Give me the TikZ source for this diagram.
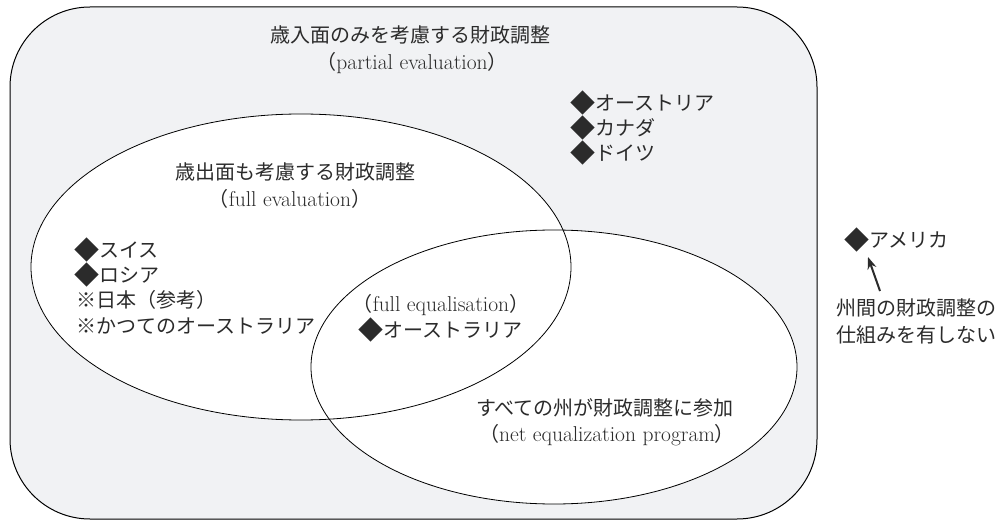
\documentclass[tikz,border=0pt]{standalone}
\usepackage{graphicx}
\usepackage{fontspec}
\newfontfamily\jp{Noto Sans CJK JP}
\usetikzlibrary{arrows.meta}
\definecolor{bggray}{HTML}{F1F2F4}
\definecolor{txt}{HTML}{2B2B2B}
\newcommand\lat{\fontsize{21.5}{25}\selectfont}
\newcommand\dia{\hspace{-0.08em}\raisebox{-0.12em}{\scalebox{1.25}{◆}}\hspace{-0.02em}}
\tikzset{
  lbl/.style={text=txt, inner sep=0pt, font=\fontsize{20}{25}\selectfont\jp, align=center},
  lst/.style={lbl, align=left, anchor=west},
  outline/.style={draw=black, line width=0.8pt}
}
\begin{document}
\begin{tikzpicture}[x=1pt,y=-1pt]
\useasboundingbox (0,0) rectangle (1007,521);
% outer set
\draw[outline, line width=1pt, fill=bggray, rounded corners=80pt] (10,7) rectangle (817,519);
% ellipses (fill first, then outline)
\fill[white] (301,267) ellipse [x radius=270, y radius=153];
\fill[white] (554,367) ellipse [x radius=243, y radius=137];
\draw[outline] (301,267) ellipse [x radius=270, y radius=153];
\draw[outline] (554,367) ellipse [x radius=243, y radius=137];
% labels
\node[lbl] (t1) at (410,35) {歳入面のみを考慮する財政調整};
\node[lbl] (t1e) at (412,63) {（{\lat\rmfamily partial evaluation}）};
\node[lbl] (t2) at (295,172) {歳出面も考慮する財政調整};
\node[lbl] (t2e) at (290,199) {（{\lat\rmfamily full evaluation}）};
\node[lst] (sw) at (76,250) {\dia スイス};
\node[lst] (ru) at (76,275) {\dia ロシア};
\node[lst] (jpn) at (76,300) {※日本（参考）};
\node[lst] (oau) at (76,326) {※かつてのオーストラリア};
\node[lbl] (t3e) at (441,305) {（{\lat\rmfamily full equalisation}）};
\node[lst] (au) at (360,330) {\dia オーストラリア};
\node[lbl] (t4) at (605,408) {すべての州が財政調整に参加};
\node[lbl] (t4e) at (607,435) {（{\lat\rmfamily net equalization program}）};
\node[lst] (at) at (572,103) {\dia オーストリア};
\node[lst] (ca) at (572,128) {\dia カナダ};
\node[lst] (de) at (572,153) {\dia ドイツ};
\node[lst] (us) at (846,240) {\dia アメリカ};
\node[lst] (n1) at (836,308) {州間の財政調整の};
\node[lst] (n2) at (836,335) {仕組みを有しない};
\coordinate (tail) at (880,291);
\coordinate (tip) at (868,257);
\draw[-{Stealth[length=12pt,width=9pt]}, line width=2pt, draw=txt] (tail) -- (tip);
\end{tikzpicture}
\end{document}
